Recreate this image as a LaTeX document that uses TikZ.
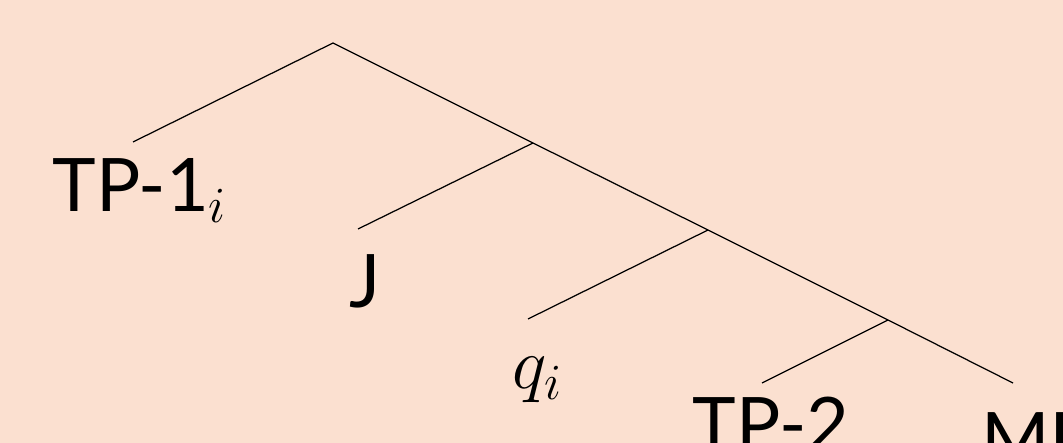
\documentclass[tikz,border=0pt]{standalone}
\usepackage{fontspec}
\setmainfont{Lato}
\usepackage{tikz}
\definecolor{treebg}{HTML}{FBE0D0}

\begin{document}
\begin{tikzpicture}[
  x=0.01cm, y=-0.01cm,
  font=\fontsize{21}{25}\selectfont,
  branch/.style={draw=black, line width=0.35pt},
  leaf/.style={anchor=base, inner sep=0pt}
]
\useasboundingbox (0,0) rectangle (1063,443);
\clip (0,0) rectangle (1063,443);
\fill[treebg] (0,0) rectangle (1063,443);

% inner points of the tree
\coordinate (root) at (333,43);
\coordinate (n1) at (533,143);
\coordinate (n2) at (708,230);
\coordinate (n3) at (888,320);

% ends of the branches above the leaves
\coordinate (tpa) at (133,142);
\coordinate (ja) at (358,229);
\coordinate (qa) at (528,319);
\coordinate (tpb) at (762,383);
\coordinate (mua) at (1013,383);

\node[leaf] (tp1) at (140,212) {TP-1$_i$};
\node[leaf] (j) at (365,308) {J};
\node[leaf] (q) at (538,389) {$q_i$};
\node[leaf] (tp2) at (771,451) {TP-2};
\node[leaf, anchor=base west] (mu) at (981,466) {MU};

\draw[branch] (tpa) -- (root) -- (n1) -- (n2) -- (n3) -- (mua);
\draw[branch] (ja) -- (n1);
\draw[branch] (qa) -- (n2);
\draw[branch] (tpb) -- (n3);
\end{tikzpicture}
\end{document}
